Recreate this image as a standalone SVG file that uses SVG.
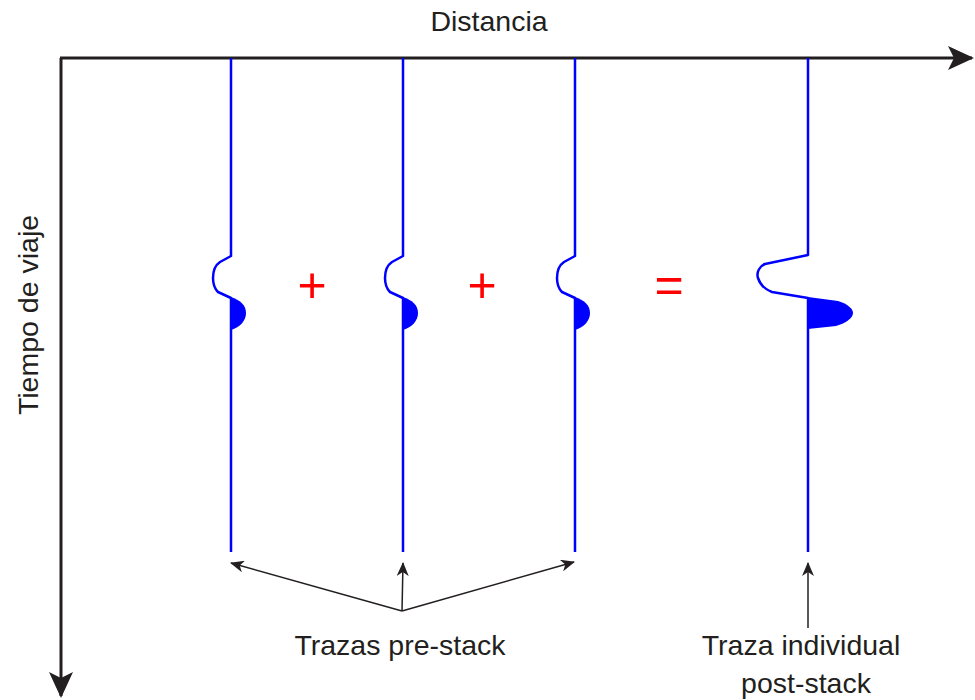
<svg xmlns="http://www.w3.org/2000/svg" width="975" height="700" viewBox="0 0 975 700">
<style>
.t{font-family:"Liberation Sans",Arial,sans-serif;font-size:28.5px;fill:#231f20}
.op{font-family:"Liberation Sans",Arial,sans-serif;font-size:50px;fill:#ff0000}
.tr{fill:none;stroke:#0000ff;stroke-width:2.5;stroke-linejoin:round}
.lobe{fill:#0000ff;stroke:none}
.ax{fill:none;stroke:#231f20;stroke-width:3}
.ar{fill:none;stroke:#231f20;stroke-width:1.5}
</style>
<defs>
<marker id="big" viewBox="0 0 26 24" refX="24" refY="12" markerWidth="26" markerHeight="24" markerUnits="userSpaceOnUse" orient="auto">
<path d="M0,0 L26,12 L0,24 L6,12 Z" fill="#231f20"/>
</marker>
<marker id="sm" viewBox="0 0 14 12" refX="13" refY="6" markerWidth="14" markerHeight="12" markerUnits="userSpaceOnUse" orient="auto">
<path d="M0,0 L14,6 L0,12 L4,6 Z" fill="#231f20"/>
</marker>
</defs>
<g id="axes">
<path class="ax" d="M60,58 H972" marker-end="url(#big)"/>
<path class="ax" d="M61,58 V696" marker-end="url(#big)"/>
<text class="t" x="489" y="31" text-anchor="middle">Distancia</text>
<text class="t" transform="translate(38,315) rotate(-90)" text-anchor="middle">Tiempo de viaje</text>
</g>
<g id="trace1">
<path class="tr" d="M231,58 V256 L220,262 C214,266 213,272 213,278 C213,284 215,289 218,292 L231,298 V552"/>
<path class="lobe" d="M231,297 C240,300 246,305 246,313 C246,321 240,327 231,330 Z"/>
</g>
<g id="trace2">
<path class="tr" d="M403,58 V256 L392,262 C386,266 385,272 385,278 C385,284 387,289 390,292 L403,298 V552"/>
<path class="lobe" d="M403,297 C412,300 418,305 418,313 C418,321 412,327 403,330 Z"/>
</g>
<g id="trace3">
<path class="tr" d="M575,58 V256 L564,262 C558,266 557,272 557,278 C557,284 559,289 562,292 L575,298 V552"/>
<path class="lobe" d="M575,297 C584,300 590,305 590,313 C590,321 584,327 575,330 Z"/>
</g>
<g id="trace4">
<path class="tr" d="M808,58 V255 L765,264 C760,266 756,272 758,278 C760,284 764,289 772,292 L808,298 V552"/>
<path class="lobe" d="M808,297 L838,301 C848,304 853,309 853,313 C853,318 846,323 836,326 L808,329 Z"/>
</g>
<g id="operators">
<text class="op" x="312" y="302" text-anchor="middle">+</text>
<text class="op" x="482" y="302" text-anchor="middle">+</text>
<text class="op" x="669" y="302" text-anchor="middle">=</text>
</g>
<g id="connectors">
<path class="ar" d="M402,611 L231,563" marker-end="url(#sm)"/>
<path class="ar" d="M402,611 L403,563" marker-end="url(#sm)"/>
<path class="ar" d="M402,611 L574,562" marker-end="url(#sm)"/>
<path class="ar" d="M808,628 L808,563" marker-end="url(#sm)"/>
</g>
<g id="labels">
<text class="t" x="400" y="655" text-anchor="middle">Trazas pre-stack</text>
<text class="t" x="801" y="655" text-anchor="middle">Traza individual</text>
<text class="t" x="806" y="693" text-anchor="middle">post-stack</text>
</g>
</svg>
